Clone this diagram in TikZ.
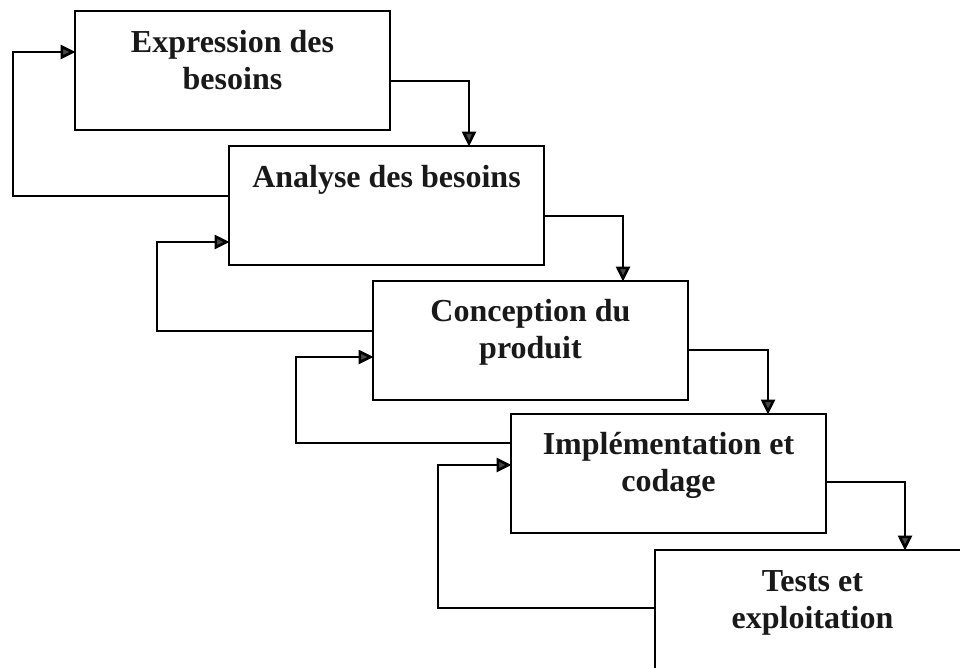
\documentclass[tikz,border=0pt]{standalone}
\usepackage{fontspec}
\setmainfont{Liberation Serif}
\usetikzlibrary{arrows.meta}
\begin{document}
\begin{tikzpicture}[x=1pt,y=-1pt,
  stage/.style={draw=black, line width=2.2pt, minimum width=315pt, minimum height=119pt,
    anchor=north west, inner sep=0pt, outer sep=0pt},
  lbl/.style={anchor=base, align=center, inner sep=0pt, text=black!90,
    font=\fontsize{32}{37}\selectfont\bfseries},
  link/.style={draw=black, line width=2.6pt,
    -{Triangle[length=15pt,width=14pt,fill=black!72]}, shorten >=-0.5pt}
]
\useasboundingbox (0,0) rectangle (960,667);

% stages of the cycle
\node[stage] (b1) at (75,11) {};
\node[stage] (b2) at (229,146) {};
\node[stage] (b3) at (373,281) {};
\node[stage] (b4) at (511,414) {};
\node[stage] (b5) at (655,550) {};

% stage titles; the base anchor sits on the last line, 41pt (+37pt per extra line) below the top
\node[lbl] (t1) at ([yshift=-78pt]b1.north) {Expression des\\besoins};
\node[lbl] (t2) at ([yshift=-41pt]b2.north) {Analyse des besoins};
\node[lbl] (t3) at ([yshift=-77pt]b3.north) {Conception du\\produit};
\node[lbl] (t4) at ([yshift=-77pt]b4.north) {Implémentation et\\codage};
\node[lbl] (t5) at ([yshift=-78pt]b5.north) {Tests et\\exploitation};

% forward flow: out of the right side, down onto the next stage
\draw[link] ([yshift=-70pt]b1.north east) -| ([xshift=240pt]b2.north west);
\draw[link] ([yshift=-70pt]b2.north east) -| ([xshift=250pt]b3.north west);
\draw[link] ([yshift=-69pt]b3.north east) -| ([xshift=257pt]b4.north west);
\draw[link] ([yshift=-68pt]b4.north east) -| ([xshift=250pt]b5.north west);

% feedback: out of the left side, back into the previous stage
\draw[link] ([yshift=-50pt]b2.north west) -| ([xshift=-62pt,yshift=-41pt]b1.north west)
  -- ([yshift=-41pt]b1.north west);
\draw[link] ([yshift=-50pt]b3.north west) -| ([xshift=-72pt,yshift=-96pt]b2.north west)
  -- ([yshift=-96pt]b2.north west);
\draw[link] ([yshift=-29pt]b4.north west) -| ([xshift=-77pt,yshift=-76pt]b3.north west)
  -- ([yshift=-76pt]b3.north west);
\draw[link] ([yshift=-58pt]b5.north west) -| ([xshift=-73pt,yshift=-51pt]b4.north west)
  -- ([yshift=-51pt]b4.north west);
\end{tikzpicture}
\end{document}
